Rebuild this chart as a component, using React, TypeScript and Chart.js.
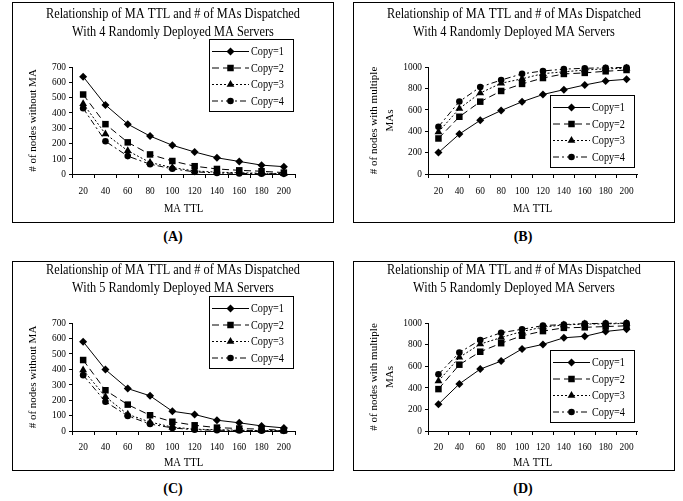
import React, { useEffect, useRef } from 'react';
import { Chart, registerables } from 'chart.js';

Chart.register(...registerables);

// ---------- data ----------
const ttlLabels = ['20', '40', '60', '80', '100', '120', '140', '160', '180', '200'];
const seriesNames = ['Copy=1', 'Copy=2', 'Copy=3', 'Copy=4'];

const titleLine1 = 'Relationship of MA TTL and # of MAs Dispatched';
const titleFourServers = 'With 4 Randomly Deployed MA Servers';
const titleFiveServers = 'With 5 Randomly Deployed MA Servers';
const xAxisTitle = 'MA TTL';
const yTitleWithout = '# of nodes without MA';
const yTitleMultiple = ['# of nodes with multiple', 'MAs'];
const panelLabels = ['(A)', '(B)', '(C)', '(D)'];

// (A) 4 servers, nodes without MA
const without4Copy1 = [637, 452, 326, 248, 188, 144, 106, 82, 58, 48];
const without4Copy2 = [520, 326, 207, 128, 85, 51, 33, 24, 18, 9];
const without4Copy3 = [460, 262, 152, 75, 42, 20, 12, 8, 5, 3];
const without4Copy4 = [430, 214, 117, 64, 34, 14, 7, 4, 2, 1];

// (B) 4 servers, nodes with multiple MAs
const multi4Copy1 = [200, 373, 502, 593, 675, 743, 788, 832, 870, 885];
const multi4Copy2 = [332, 535, 676, 776, 842, 897, 935, 945, 960, 972];
const multi4Copy3 = [392, 612, 757, 848, 890, 938, 955, 972, 983, 988];
const multi4Copy4 = [442, 677, 813, 878, 936, 963, 980, 988, 993, 996];

// (C) 5 servers, nodes without MA
const without5Copy1 = [579, 398, 275, 228, 128, 107, 70, 53, 33, 20];
const without5Copy2 = [460, 264, 171, 102, 60, 37, 22, 16, 12, 4];
const without5Copy3 = [395, 222, 108, 58, 25, 12, 8, 5, 3, 2];
const without5Copy4 = [362, 190, 98, 45, 20, 8, 5, 3, 2, 1];

// (D) 5 servers, nodes with multiple MAs
const multi5Copy1 = [248, 436, 573, 647, 760, 802, 863, 877, 922, 942];
const multi5Copy2 = [388, 614, 734, 813, 882, 925, 955, 960, 967, 974];
const multi5Copy3 = [462, 682, 805, 865, 922, 962, 982, 990, 992, 996];
const multi5Copy4 = [525, 726, 843, 910, 942, 976, 986, 994, 997, 999];

// ---------- styles ----------
const FONT = "'Liberation Serif', 'Times New Roman', serif";
const TEXT_SQUEEZE = 0.85; // the source figure is horizontally condensed
const seriesStyles = [
  { dash: [] as number[], point: 'rectRot', r: 4 },
  { dash: [7, 4], point: 'rect', r: 4.6 },
  { dash: [2, 2], point: 'triangle', r: 4.5 },
  { dash: [6, 3, 2, 3], point: 'circle', r: 3.3 },
];

type Rect = { x: number; y: number; w: number; h: number };
type PanelCfg = {
  panel: Rect;
  plot: { l: number; t: number; r: number; b: number };
  legend: Rect;
  titleLines: string[];
  titlePadTop: number;
  yTitle: string | string[];
  yTitlePad: number;
  yTitleLH: number;
  yMax: number;
  yStep: number;
  series: number[][];
  xTickPad: number;
  xTitlePadBottom: number;
  label: string;
  labelPos: { x: number; y: number };
};

const panels: PanelCfg[] = [
  {
    panel: { x: 12, y: 2, w: 322, h: 221 },
    plot: { l: 72, t: 67, r: 295, b: 174 },
    legend: { x: 197, y: 37, w: 84, h: 72 },
    titleLines: [titleLine1, titleFourServers],
    titlePadTop: 3,
    yTitle: yTitleWithout,
    yTitlePad: 14.4,
    yTitleLH: 1.2,
    yMax: 700,
    yStep: 100,
    series: [without4Copy1, without4Copy2, without4Copy3, without4Copy4],
    xTickPad: 6.4,
    xTitlePadBottom: 6.5,
    label: panelLabels[0],
    labelPos: { x: 173, y: 237 },
  },
  {
    panel: { x: 353, y: 2, w: 322, h: 221 },
    plot: { l: 428, t: 67, r: 637, b: 174 },
    legend: { x: 197, y: 93, w: 84, h: 72 },
    titleLines: [titleLine1, titleFourServers],
    titlePadTop: 3,
    yTitle: yTitleMultiple,
    yTitlePad: 13,
    yTitleLH: 16 / 11,
    yMax: 1000,
    yStep: 200,
    series: [multi4Copy1, multi4Copy2, multi4Copy3, multi4Copy4],
    xTickPad: 6.4,
    xTitlePadBottom: 6.5,
    label: panelLabels[1],
    labelPos: { x: 523, y: 237 },
  },
  {
    panel: { x: 12, y: 261, w: 322, h: 210 },
    plot: { l: 72, t: 323, r: 295, b: 431 },
    legend: { x: 197, y: 35, w: 84, h: 72 },
    titleLines: [titleLine1, titleFiveServers],
    titlePadTop: 0,
    yTitle: yTitleWithout,
    yTitlePad: 14.4,
    yTitleLH: 1.2,
    yMax: 700,
    yStep: 100,
    series: [without5Copy1, without5Copy2, without5Copy3, without5Copy4],
    xTickPad: 5.4,
    xTitlePadBottom: 0.5,
    label: panelLabels[2],
    labelPos: { x: 173, y: 489 },
  },
  {
    panel: { x: 353, y: 261, w: 322, h: 210 },
    plot: { l: 428, t: 323, r: 637, b: 431 },
    legend: { x: 197, y: 89, w: 84, h: 72 },
    titleLines: [titleLine1, titleFiveServers],
    titlePadTop: 0,
    yTitle: yTitleMultiple,
    yTitlePad: 13,
    yTitleLH: 16 / 11,
    yMax: 1000,
    yStep: 200,
    series: [multi5Copy1, multi5Copy2, multi5Copy3, multi5Copy4],
    xTickPad: 5.4,
    xTitlePadBottom: 0.5,
    label: panelLabels[3],
    labelPos: { x: 523, y: 489 },
  },
];

function drawMarker(ctx: CanvasRenderingContext2D, style: string, x: number, y: number, r: number) {
  ctx.beginPath();
  if (style === 'rectRot') {
    ctx.moveTo(x, y - r);
    ctx.lineTo(x + r, y);
    ctx.lineTo(x, y + r);
    ctx.lineTo(x - r, y);
    ctx.closePath();
  } else if (style === 'rect') {
    const s = r * Math.SQRT1_2;
    ctx.rect(x - s, y - s, 2 * s, 2 * s);
  } else if (style === 'triangle') {
    let a = 0;
    ctx.moveTo(x + Math.sin(a) * r, y - Math.cos(a) * r);
    a += (2 * Math.PI) / 3;
    ctx.lineTo(x + Math.sin(a) * r, y - Math.cos(a) * r);
    a += (2 * Math.PI) / 3;
    ctx.lineTo(x + Math.sin(a) * r, y - Math.cos(a) * r);
    ctx.closePath();
  } else {
    ctx.arc(x, y, r, 0, Math.PI * 2);
  }
  ctx.fill();
}

// Horizontally condensed text (upright text only), like the source figure.
const condensedText = {
  id: 'condensedText',
  beforeDraw(chart: any) {
    const ctx: any = chart.ctx;
    if (ctx.__condensed) return;
    ctx.__condensed = true;
    const orig = CanvasRenderingContext2D.prototype.fillText;
    ctx.fillText = function (text: string, x: number, y: number, mw?: number) {
      const t = this.getTransform();
      if (Math.abs(t.b) > 1e-6 || Math.abs(t.c) > 1e-6) {
        return mw === undefined ? orig.call(this, text, x, y) : orig.call(this, text, x, y, mw);
      }
      this.save();
      this.translate(x, y);
      this.scale(TEXT_SQUEEZE, 1);
      if (mw === undefined) orig.call(this, text, 0, 0);
      else orig.call(this, text, 0, 0, mw / TEXT_SQUEEZE);
      this.restore();
    };
  },
};

function buildConfig(cfg: PanelCfg): any {
  const { panel, plot, legend } = cfg;
  const yWidth = plot.l - panel.x;
  const xHeight = panel.y + panel.h - plot.b;
  const padRight = panel.x + panel.w - plot.r;
  const titleLH = 18;
  const titleSize = 14.5;
  const titlePadBottom = plot.t - panel.y - cfg.titlePadTop - titleLH * 2;

  const boxLegend = {
    id: 'boxLegend',
    afterDraw(chart: any) {
      const ctx: CanvasRenderingContext2D = chart.ctx;
      ctx.save();
      ctx.fillStyle = '#fff';
      ctx.fillRect(legend.x, legend.y, legend.w, legend.h);
      ctx.strokeStyle = '#000';
      ctx.lineWidth = 1;
      ctx.strokeRect(legend.x + 0.5, legend.y + 0.5, legend.w, legend.h);
      chart.data.datasets.forEach((ds: any, i: number) => {
        const st = seriesStyles[i];
        const yy = legend.y + 12.5 + i * 16.5;
        ctx.strokeStyle = '#000';
        ctx.setLineDash(st.dash);
        ctx.beginPath();
        ctx.moveTo(legend.x + 3, yy);
        ctx.lineTo(legend.x + 40, yy);
        ctx.stroke();
        ctx.setLineDash([]);
        ctx.fillStyle = '#000';
        drawMarker(ctx, st.point, legend.x + 21.5, yy, st.r);
        ctx.font = `12px ${FONT}`;
        ctx.textBaseline = 'middle';
        ctx.textAlign = 'left';
        ctx.fillText(ds.label, legend.x + 42, yy + 0.5);
      });
      ctx.restore();
    },
  };

  const panelBorder = {
    id: 'panelBorder',
    afterDraw(chart: any) {
      const ctx: CanvasRenderingContext2D = chart.ctx;
      ctx.save();
      ctx.strokeStyle = '#000';
      ctx.lineWidth = 1;
      ctx.strokeRect(0.5, 0.5, chart.width - 1, chart.height - 1);
      ctx.restore();
    },
  };

  return {
    type: 'line',
    data: {
      labels: ttlLabels,
      datasets: cfg.series.map((values, i) => ({
        label: seriesNames[i],
        data: values,
        borderColor: '#000',
        backgroundColor: '#000',
        borderWidth: 1,
        borderDash: seriesStyles[i].dash,
        pointStyle: seriesStyles[i].point,
        pointRadius: seriesStyles[i].r,
        pointBackgroundColor: '#000',
        pointBorderColor: '#000',
        pointBorderWidth: 0,
        tension: 0,
        fill: false,
        clip: false,
      })),
    },
    options: {
      animation: false,
      responsive: false,
      devicePixelRatio: 1,
      layout: { padding: 0 },
      plugins: {
        legend: { display: false },
        tooltip: { enabled: false },
        title: {
          display: true,
          text: cfg.titleLines,
          color: '#000',
          font: { family: FONT, size: titleSize, weight: 'normal', lineHeight: titleLH / titleSize },
          padding: { top: cfg.titlePadTop, bottom: titlePadBottom },
        },
      },
      scales: {
        x: {
          type: 'category',
          offset: true,
          afterFit: (s: any) => {
            s.height = xHeight;
          },
          grid: {
            offset: true,
            drawOnChartArea: false,
            drawTicks: true,
            tickLength: 4,
            color: '#000',
            lineWidth: 1,
          },
          border: { display: true, color: '#000', width: 1 },
          ticks: {
            color: '#000',
            font: { family: FONT, size: 11, lineHeight: 1.2 },
            padding: cfg.xTickPad,
            maxRotation: 0,
            autoSkip: false,
          },
          title: {
            display: true,
            text: xAxisTitle,
            color: '#000',
            font: { family: FONT, size: 12.5, lineHeight: 1.2 },
            padding: { top: 0, bottom: cfg.xTitlePadBottom },
          },
        },
        y: {
          min: 0,
          max: cfg.yMax,
          afterFit: (s: any) => {
            s.width = yWidth;
          },
          grid: {
            drawOnChartArea: false,
            drawTicks: true,
            tickLength: 3,
            color: '#000',
            lineWidth: 1,
          },
          border: { display: true, color: '#000', width: 1 },
          ticks: {
            stepSize: cfg.yStep,
            autoSkip: false,
            color: '#000',
            font: { family: FONT, size: 11, lineHeight: 1 },
            padding: 3,
            callback: (v: any) => String(v),
          },
          title: {
            display: true,
            text: cfg.yTitle,
            color: '#000',
            font: { family: FONT, size: 11, lineHeight: cfg.yTitleLH },
            padding: { top: cfg.yTitlePad, bottom: 0 },
          },
        },
        // empty spacer on the right so the title stays centred on the whole panel
        spacer: {
          type: 'linear',
          position: 'right',
          display: true,
          afterFit: (s: any) => {
            s.width = padRight;
          },
          grid: { display: false, drawTicks: false },
          ticks: { display: false },
          border: { display: false },
          title: { display: false },
        },
      },
    },
    plugins: [condensedText, boxLegend, panelBorder],
  };
}

function Panel({ cfg }: { cfg: PanelCfg }) {
  const ref = useRef<HTMLCanvasElement>(null);
  useEffect(() => {
    const chart = new Chart(ref.current as HTMLCanvasElement, buildConfig(cfg));
    return () => chart.destroy();
  }, [cfg]);
  return (
    <>
      <canvas
        ref={ref}
        width={cfg.panel.w}
        height={cfg.panel.h}
        style={{
          position: 'absolute',
          left: cfg.panel.x,
          top: cfg.panel.y,
          width: cfg.panel.w,
          height: cfg.panel.h,
          display: 'block',
        }}
      />
      <div
        style={{
          position: 'absolute',
          left: cfg.labelPos.x - 30,
          top: cfg.labelPos.y - 9,
          width: 60,
          height: 18,
          lineHeight: '18px',
          textAlign: 'center',
          fontFamily: FONT,
          fontWeight: 'bold',
          fontSize: 14,
          color: '#000',
        }}
      >
        {cfg.label}
      </div>
    </>
  );
}

export default function App() {
  return (
    <div
      style={{
        position: 'fixed',
        left: 0,
        top: 0,
        width: 683,
        height: 501,
        background: '#fff',
        overflow: 'hidden',
      }}
    >
      {panels.map((p) => (
        <Panel key={p.label} cfg={p} />
      ))}
    </div>
  );
}
